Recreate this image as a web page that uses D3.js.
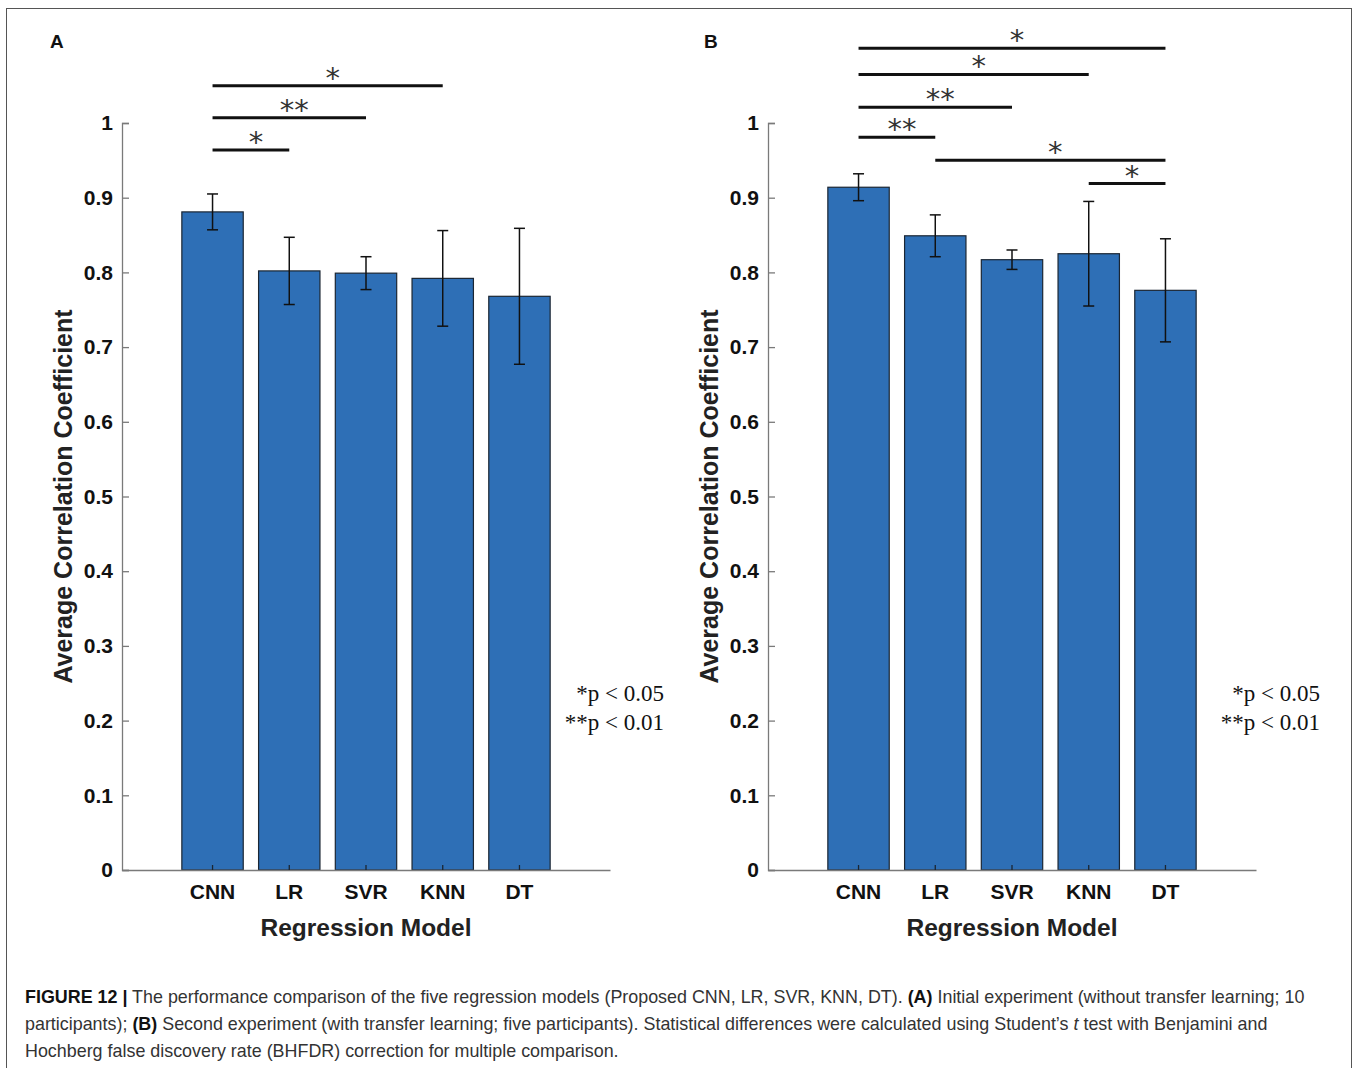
<!DOCTYPE html>
<html>
<head>
<meta charset="utf-8">
<script src="https://cdn.jsdelivr.net/npm/d3@7"></script>
<style>
  body { margin: 0; background: #fff; }
  svg text { font-family: "Liberation Sans", Arial, sans-serif; }
</style>
</head>
<body>
<div id="chart"></div>
<script>
// values
var models = ["CNN", "LR", "SVR", "KNN", "DT"];
var meanA = [0.881, 0.802, 0.799, 0.792, 0.768];
var errA  = [0.024, 0.045, 0.022, 0.064, 0.091];
var meanB = [0.914, 0.849, 0.817, 0.825, 0.776];
var errB  = [0.018, 0.028, 0.013, 0.070, 0.069];
var yTicks = [0, 0.1, 0.2, 0.3, 0.4, 0.5, 0.6, 0.7, 0.8, 0.9, 1];
// [from, to, level, stars]
var sigA = [["CNN", "KNN", 1.050, "*"], ["CNN", "SVR", 1.007, "**"], ["CNN", "LR", 0.964, "*"]];
var sigB = [["CNN", "DT", 1.100, "*"], ["CNN", "KNN", 1.065, "*"], ["CNN", "SVR", 1.021, "**"],
            ["CNN", "LR", 0.981, "**"], ["LR", "DT", 0.950, "*"], ["KNN", "DT", 0.919, "*"]];
var legendLines = ["*p < 0.05", "**p < 0.01"];

var W = 1358, H = 1068,
    barColor = "#2e6fb6",
    axisColor = "#7a7a7a";

var svg = d3.select("#chart").append("svg")
  .attr("width", W)
  .attr("height", H);

// outer frame
svg.append("rect")
  .attr("x", 6.5).attr("y", 8.5)
  .attr("width", W - 13).attr("height", H + 20)
  .attr("fill", "none")
  .attr("stroke", "#555")
  .attr("stroke-width", 1);

var y = d3.scaleLinear().domain([0, 1]).range([870, 123]);

function drawPanel(offX, letter, letterX, means, errs, sigs, legendX) {
  var g = svg.append("g").attr("transform", "translate(" + offX + ",0)");

  var x = d3.scaleBand()
    .domain(models)
    .range([122, 610])
    .paddingInner(0.2)
    .paddingOuter(0.78);

  var data = models.map(function(m, i) { return {name: m, v: means[i], e: errs[i]}; });

  // bars
  g.selectAll("rect.bar")
    .data(data)
    .enter().append("rect")
    .attr("class", "bar")
    .attr("x", function(d) { return x(d.name); })
    .attr("y", function(d) { return y(d.v); })
    .attr("width", x.bandwidth())
    .attr("height", function(d) { return y(0) - y(d.v); })
    .attr("fill", barColor)
    .attr("stroke", "#1b2633")
    .attr("stroke-width", 1.2);

  // axes (ticks pointing inward)
  var yAxis = g.append("g")
    .attr("transform", "translate(122,0)")
    .call(d3.axisLeft(y).tickValues(yTicks).tickFormat(d3.format("~g"))
      .tickSizeInner(-7).tickSizeOuter(-7).tickPadding(9));

  var xAxis = g.append("g")
    .attr("transform", "translate(0,870)")
    .call(d3.axisBottom(x).tickSizeInner(-5).tickSizeOuter(0).tickPadding(14));

  [yAxis, xAxis].forEach(function(a) {
    a.select(".domain").attr("stroke", axisColor).attr("stroke-width", 1.3);
    a.selectAll(".tick line").attr("stroke", axisColor).attr("stroke-width", 1.3);
    a.selectAll(".tick text")
      .attr("fill", "#111")
      .style("font-size", "21px")
      .style("font-weight", "bold");
  });
  xAxis.selectAll(".tick line").attr("stroke", "#1b2633");

  // error bars
  var eb = g.selectAll("g.err")
    .data(data)
    .enter().append("g")
    .attr("class", "err")
    .attr("stroke", "#111")
    .attr("stroke-width", 1.5);
  eb.append("line")
    .attr("x1", function(d) { return x(d.name) + x.bandwidth() / 2; })
    .attr("x2", function(d) { return x(d.name) + x.bandwidth() / 2; })
    .attr("y1", function(d) { return y(d.v + d.e); })
    .attr("y2", function(d) { return y(d.v - d.e); });
  [1, -1].forEach(function(s) {
    eb.append("line")
      .attr("x1", function(d) { return x(d.name) + x.bandwidth() / 2 - 5.5; })
      .attr("x2", function(d) { return x(d.name) + x.bandwidth() / 2 + 5.5; })
      .attr("y1", function(d) { return y(d.v + s * d.e); })
      .attr("y2", function(d) { return y(d.v + s * d.e); });
  });

  // significance brackets
  var cx = function(m) { return x(m) + x.bandwidth() / 2; };
  var sg = g.selectAll("g.sig")
    .data(sigs)
    .enter().append("g")
    .attr("class", "sig");
  sg.append("line")
    .attr("x1", function(d) { return cx(d[0]); })
    .attr("x2", function(d) { return cx(d[1]); })
    .attr("y1", function(d) { return y(d[2]); })
    .attr("y2", function(d) { return y(d[2]); })
    .attr("stroke", "#111")
    .attr("stroke-width", 3);
  sg.append("text")
    .attr("x", function(d) { return (cx(d[0]) + cx(d[1])) / 2 + 5; })
    .attr("y", function(d) { return y(d[2]) + 2; })
    .attr("text-anchor", "middle")
    .style("font-family", "'DejaVu Sans', sans-serif")
    .style("font-size", "29px")
    .attr("fill", "#333")
    .text(function(d) { return d[3]; });

  // axis titles
  g.append("text")
    .attr("transform", "translate(72," + y(0.5) + ") rotate(-90)")
    .attr("text-anchor", "middle")
    .style("font-size", "25px")
    .style("font-weight", "bold")
    .attr("fill", "#222")
    .text("Average Correlation Coefficient");

  g.append("text")
    .attr("x", (122 + 610) / 2)
    .attr("y", 936)
    .attr("text-anchor", "middle")
    .style("font-size", "24.5px")
    .style("font-weight", "bold")
    .attr("fill", "#222")
    .text("Regression Model");

  // panel letter
  g.append("text")
    .attr("x", letterX).attr("y", 48)
    .style("font-size", "19px")
    .style("font-weight", "bold")
    .attr("fill", "#111")
    .text(letter);

  // p-value legend
  g.selectAll("text.leg")
    .data(legendLines)
    .enter().append("text")
    .attr("class", "leg")
    .attr("x", legendX)
    .attr("y", function(d, i) { return 701 + i * 29; })
    .attr("text-anchor", "end")
    .style("font-family", "'Liberation Serif', 'Times New Roman', serif")
    .style("font-size", "23px")
    .attr("fill", "#111")
    .text(function(d) { return d; });
}

drawPanel(0, "A", 50, meanA, errA, sigA, 664);
drawPanel(646, "B", 58, meanB, errB, sigB, 674);

// caption
var caption = [
  [["FIGURE 12 |", "b"], [" The performance comparison of the five regression models (Proposed CNN, LR, SVR, KNN, DT). ", ""],
   ["(A)", "b"], [" Initial experiment (without transfer learning; 10", ""]],
  [["participants); ", ""], ["(B)", "b"],
   [" Second experiment (with transfer learning; five participants). Statistical differences were calculated using Student\u2019s ", ""],
   ["t", "i"], [" test with Benjamini and", ""]],
  [["Hochberg false discovery rate (BHFDR) correction for multiple comparison.", ""]]
];

caption.forEach(function(line, i) {
  var t = svg.append("text")
    .attr("x", 25)
    .attr("y", 1003 + i * 27)
    .style("font-size", "17.9px")
    .attr("fill", "#333");
  line.forEach(function(p) {
    t.append("tspan")
      .attr("fill", p[1] === "b" ? "#111" : null)
      .style("font-weight", p[1] === "b" ? "bold" : null)
      .style("font-style", p[1] === "i" ? "italic" : null)
      .text(p[0]);
  });
});
</script>
</body>
</html>
